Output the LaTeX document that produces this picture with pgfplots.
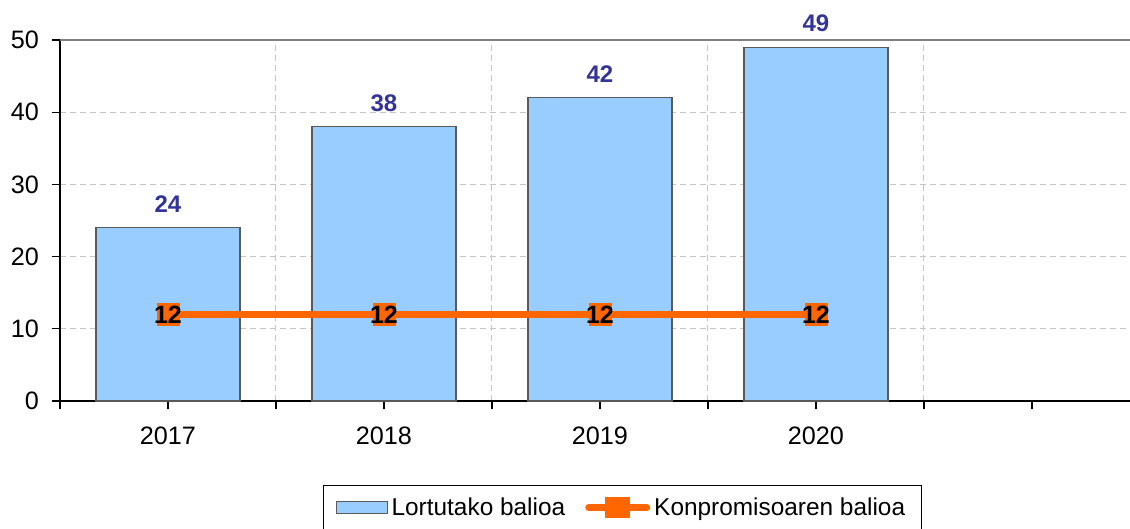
\documentclass[border=0pt]{standalone}
\usepackage{pgfplots}
\pgfplotsset{compat=1.18}
\usepackage{fontspec}
\setmainfont{Liberation Sans}
\definecolor{barblue}{HTML}{99CCFF}
\definecolor{baredge}{HTML}{5A5A5A}
\definecolor{lineor}{HTML}{FF6600}
\definecolor{lblblue}{HTML}{333399}
\begin{document}
\begin{tikzpicture}
\begin{axis}[
  at={(0,0)}, anchor=south west,
  scale only axis, width=535pt, height=180.5pt,
  xmin=-0.5, xmax=4.454, ymin=0, ymax=50,
  axis x line*=bottom, axis y line*=left,
  axis line style={black, line width=0.8pt},
  xtick={0,1,2,3,4}, xticklabels={2017,2018,2019,2020,{}},
  minor xtick={-0.5,0.5,1.5,2.5,3.5},
  xminorgrids=true, ymajorgrids=true,
  ytick={0,10,20,30,40,50},
  grid style={densely dashed, gray!45, line width=0.5pt},
  minor grid style={densely dashed, gray!45, line width=0.5pt},
  tick align=outside, major tick length=4pt, minor tick length=4pt,
  tick style={black, line width=0.6pt},
  ticklabel style={font=\fontsize{12.6}{14}\selectfont},
  xticklabel style={yshift=-5.5pt},
  yticklabel style={xshift=-3pt},
  /pgf/number format/assume math mode=true,
  legend style={at={(0.2458,-0.2327)}, anchor=north west, draw=black, line width=0.6pt,
    font=\fontsize{12.2}{14}\selectfont, inner xsep=6pt, inner ysep=4pt,
    /tikz/every even column/.append style={column sep=8pt}},
  legend columns=2, legend cell align=left,
  clip=false,
]
\draw[gray, line width=1.2pt] (rel axis cs:0,1) -- (rel axis cs:1,1);
\addplot[ybar, bar width=72pt, fill=barblue, draw=baredge, line width=0.6pt,
  nodes near coords,
  nodes near coords style={font=\bfseries\fontsize{12}{14}\selectfont, text=lblblue, yshift=4pt},
  legend image code/.code={\draw[fill=barblue,draw=baredge,line width=0.5pt] (0pt,-3pt) rectangle (25.5pt,3pt);}]
  coordinates {(0,24) (1,38) (2,42) (3,49)};
\addlegendentry{Lortutako balioa}
\addplot[color=lineor, line width=3.5pt, mark=square*, mark size=5.5pt,
  mark options={line width=0.3pt, solid, fill=lineor},
  nodes near coords, nodes near coords align=center,
  nodes near coords style={font=\bfseries\fontsize{12.5}{14}\selectfont, text=black, anchor=center},
  legend image code/.code={\draw[color=lineor, line width=3.5pt, line cap=round] (0pt,0pt) -- (29pt,0pt);
    \fill[lineor] (10pt,-3.5pt) rectangle (19pt,3.5pt);}]
  coordinates {(0,12) (1,12) (2,12) (3,12)};
\addlegendentry{Konpromisoaren balioa}
\end{axis}
\pgfresetboundingbox
\useasboundingbox (-30pt,-64pt) rectangle (535pt,200.5pt);
\end{tikzpicture}
\end{document}
